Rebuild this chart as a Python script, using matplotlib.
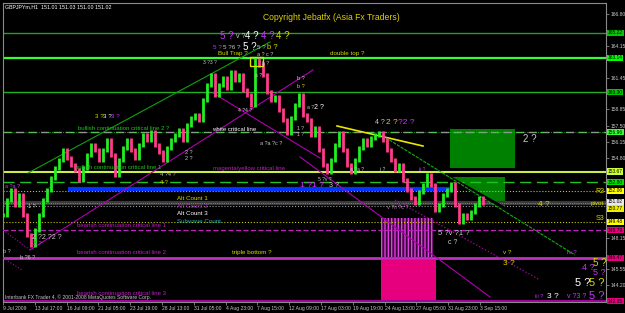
import matplotlib
matplotlib.use("Agg")
import matplotlib.pyplot as plt
import matplotlib.transforms as mtransforms
from matplotlib.patches import Rectangle, Polygon

plt.rcParams['font.family'] = ['Liberation Sans', 'DejaVu Sans']

# hourly closes sampled every 8 bars (GBPJPY H1)
closes = [
    150.05, 151.30, 152.13, 150.88, 151.72, 150.05, 148.38, 147.55, 148.80, 150.05,
    151.30, 152.13, 153.13, 153.97, 154.63, 155.47, 154.80, 154.22, 153.80, 152.97,
    153.97, 155.05, 155.88, 155.47, 154.63, 155.47, 156.30, 155.05, 153.38, 154.63,
    155.63, 156.30, 155.47, 154.80, 155.88, 156.72, 156.30, 156.97, 155.88, 155.30,
    154.63, 155.63, 156.30, 156.72, 157.13, 156.30, 157.55, 158.13, 158.38, 157.97,
    159.63, 160.88, 161.72, 160.05, 160.88, 161.47, 160.63, 161.97, 161.30, 161.72,
    160.47, 160.05, 159.22, 162.97, 162.55, 161.72, 160.30, 159.63, 159.88, 158.80,
    157.97, 156.88, 158.13, 159.22, 160.05, 158.38, 157.97, 156.72, 157.30, 155.47,
    154.22, 153.63, 154.63, 155.88, 156.88, 155.47, 154.22, 153.63, 154.63, 155.63,
    156.30, 155.88, 156.47, 156.72, 156.88, 156.30, 155.47, 154.63, 153.80, 154.22,
    152.97, 152.13, 151.47, 151.05, 151.97, 152.55, 153.38, 152.55, 150.47, 150.88,
    151.72, 152.13, 152.63, 150.88, 149.47, 150.05, 149.80, 150.30, 150.88, 151.47,
    151.05,
]
bar_step = 8

date_labels = ["9 Jul 2009", "13 Jul 17:00", "16 Jul 09:00", "21 Jul 05:00", "23 Jul 19:00",
               "28 Jul 13:00", "31 Jul 05:00", "4 Aug 23:00", "7 Aug 15:00", "12 Aug 09:00",
               "17 Aug 03:00", "19 Aug 19:00", "24 Aug 13:00", "27 Aug 05:00", "31 Aug 23:00",
               "3 Sep 15:00"]
bars_per_label = 63.6

price_ticks = [166.80, 165.45, 164.15, 162.80, 161.45, 160.15, 158.85, 157.50, 156.15,
               154.80, 153.45, 152.15, 150.80, 149.50, 148.15, 146.85, 145.55, 144.20, 142.85]

# horizontal levels: price, colour, width, dash, right-axis tag colour, tag nudge
levels = [
    (165.22, '#22a022', 1.0, '-', '#00c800', 0),
    (163.14, '#33ff33', 1.6, '-', '#00ff00', 0),
    (160.30, '#22b022', 1.0, '-', '#00c800', 0),
    (156.96, '#9a9a9a', 1.0, (0, (6, 3)), '#33ff33', 0),
    (153.67, '#ccee44', 1.5, '-', '#ccff33', 0),
    (152.80, '#22c022', 1.0, (0, (8, 4)), '#00dd00', 0),
    (152.06, '#c8c800', 0.8, ':', '#ffff00', 0),
    (151.02, '#3a3a3a', 3.0, '-', '#e8e8e8', 0.12),
    (150.77, '#9a9a9a', 0.8, ':', '#eeee00', -0.18),
    (149.48, '#c8c800', 0.8, ':', '#ffff00', 0),
    (148.79, '#c020c0', 0.9, (0, (4, 2)), '#e6007e', 0),
    (146.47, '#c030c0', 2.0, '-', '#e6007e', 0),
    (142.85, '#a000a0', 1.5, '-', '#e6007e', 0),
]

MAG = '#cc33ff'
LMAG = '#c41cc4'
YEL = '#d8d800'
GRY = '#c8c8c8'
GRN = '#22c022'

# chart annotations: bar, price, text, colour, size
notes = [
    (430, 163.47, "Bull Trap ?", YEL, 4.5),
    (654, 163.47, "double top ?", YEL, 4.5),
    (434, 164.95, "5 ?", MAG, 7), (466, 164.95, "v ?", GRY, 5), (484, 164.95, "4 ?", 'white', 7),
    (516, 164.95, "4 ?", MAG, 7), (546, 164.95, "4 ?", YEL, 7),
    (420, 164.05, "5 ?", MAG, 4.5), (440, 164.05, "5 ?6 ?", GRY, 4.5), (480, 164.05, "5 ?", 'white', 7),
    (508, 164.05, "5 ?", GRY, 4.5), (528, 164.05, "b ?", YEL, 5.5),
    (508, 163.45, "a ? c ?", GRY, 4), (400, 162.72, "3 ?3 ?", GRY, 3.6),
    (518, 162.64, "b ?", GRY, 3.6), (504, 161.64, "a ?", GRY, 3.6),
    (588, 161.39, "b ?", GRY, 4), (588, 160.80, "b ?", YEL, 4),
    (470, 158.72, "4 ?4 ?", GRY, 3.6),
    (184, 158.22, "3 ?", YEL, 4.5), (200, 158.22, "3 ?", 'white', 4.5), (216, 158.22, "3 ?", MAG, 4.5),
    (514, 156.05, "a ?a ?c ?", GRY, 4), (588, 157.30, "1 ?", GRY, 3.6), (588, 156.72, "1 ?", GRY, 3.6),
    (608, 158.97, "a ?", GRY, 3.6), (622, 158.97, "2 ?", 'white', 5),
    (744, 157.72, "4 ?", GRY, 5), (766, 157.72, "2 ?", YEL, 6), (790, 157.72, "?2 ?", MAG, 6),
    (1040, 156.39, "2 ?", GRY, 7), (1070, 150.89, "4 ?", YEL, 6),
    (870, 148.55, "5 ?v ?1 ?", GRY, 5.5), (890, 147.72, "c ?", GRY, 5),
    (1000, 146.89, "v ?", YEL, 4.5), (1000, 146.05, "3 ?", YEL, 6), (1128, 146.89, "iv ?", MAG, 4.5),
    (1180, 146.05, "5 ?", YEL, 7), (1158, 145.64, "4 ?", MAG, 6.5), (1180, 145.22, "5 ?", MAG, 6.5),
    (1144, 144.39, "5 ?", 'white', 8), (1172, 144.39, "5 ?", YEL, 8),
    (1064, 143.22, "iii ?", MAG, 4), (1088, 143.22, "3 ?", 'white', 6),
    (1128, 143.30, "v ?3 ?", MAG, 5), (1172, 143.30, "5 ?", MAG, 8),
    (594, 152.55, "1 ?1 ?", MAG, 6), (652, 152.55, "3 ?", GRY, 5),
    (630, 153.05, "5 ?v ?", GRY, 3.6), (694, 153.88, "a ?a ?", GRY, 3.6),
    (754, 153.88, "i ?", GRY, 3.6), (832, 153.88, "ii ?", MAG, 3.6),
    (768, 150.64, "v ?ii ?c ?", '#c080c0', 4),
    (348, 151.39, "Alt Count 1", YEL, 4.5), (348, 150.80, "Alt Count 2", LMAG, 4.5),
    (348, 150.14, "Alt Count 3", 'white', 4.5), (348, 149.47, "Subwave Count", '#20b0b0', 4.5),
    (420, 153.89, "magenta/yellow critical line", LMAG, 4.3),
    (148, 149.14, "bearish continuation critical line 1", LMAG, 4.3),
    (148, 146.89, "bearish continuation critical line 2", LMAG, 4.3),
    (148, 143.52, "bearish continuation critical line 3", LMAG, 4.3),
    (458, 146.89, "triple bottom ?", YEL, 4.5),
    (418, 157.14, "white critical line", 'white', 4.3),
    (150, 157.30, "bullish continuation critical line 2 ?", GRN, 4.3),
    (144, 153.97, "bullish continuation critical line 1", GRN, 4.3),
    (4, 152.39, "a ?a ?", MAG, 4), (50, 150.80, "1 ?", GRY, 4), (0, 146.97, "b ?", GRY, 4),
    (58, 148.14, "2 ?2 ?2 ?", GRY, 5), (60, 147.64, "2 ?", MAG, 4.5), (34, 146.55, "b ?6 ?", GRY, 4),
    (314, 153.39, "4 ?4 ?", GRY, 4), (314, 152.80, "4 ?", YEL, 4),
    (364, 155.30, "2 ?", GRY, 4), (364, 154.72, "2 ?", GRY, 4),
]

# trend lines: (bar0, price0, bar1, price1, colour, width, style)
trend_lines = [
    (50, 153.55, 534, 164.47, '#10a010', 0.8, '-'),
    (54, 147.14, 620, 162.14, '#b000b0', 0.8, '-'),
    (420, 160.22, 634, 154.80, '#b000b0', 0.8, '-'),
    (594, 154.89, 974, 143.22, '#b000b0', 0.8, '-'),
    (784, 151.30, 1074, 144.64, '#b000b0', 0.9, ':'),
    (0, 148.80, 54, 147.14, '#b000b0', 0.8, ':'),
    (54, 147.14, 94, 152.55, '#b000b0', 0.8, ':'),
    (0, 146.47, 38, 145.47, '#b000b0', 0.8, ':'),
    (668, 157.47, 840, 155.80, '#e8e800', 1.2, '-'),
]

fig = plt.figure(figsize=(6.25, 3.13), dpi=100, facecolor='black')
ax = fig.add_axes([3 / 625, 11 / 313, 603 / 625, 299 / 313])
ax.set_facecolor('black')
ax.set_xlim(0, 1206)
ax.set_ylim(142.80, 167.72)

# zones
ax.add_patch(Rectangle((894, 153.97), 130, 3.25, fc='#008000', ec='none', zorder=1))
ax.add_patch(Polygon([(892, 153.22), (1004, 153.22), (1004, 150.60)], closed=True,
                     fc='#008000', ec='none', zorder=1))
ax.add_patch(Rectangle((756, 146.55), 104, 3.25, fc='#3a003a', ec='#e040e0', lw=0,
                       hatch='|||||', zorder=1))
ax.add_patch(Rectangle((756, 142.97), 110, 3.33, fc='#e6007e', ec='none', zorder=1))
ax.add_patch(Rectangle((494, 162.47), 26, 0.78, fc='none', ec='#e0e000', lw=1, zorder=4))

for price, col, lw, ls, _, _ in levels:
    ax.axhline(price, color=col, lw=lw, linestyle=ls, zorder=2)
ax.axhline(156.96, color='#22cc22', lw=0.6, linestyle=':', zorder=2)
ax.axhline(151.02, color='#bbbbbb', lw=0.5, linestyle=':', zorder=2)
ax.plot([130, 900], [152.22, 152.22], color='#0033ff', lw=3, solid_capstyle='butt', zorder=2)

for b0, p0, b1, p1, col, lw, ls in trend_lines:
    ax.plot([b0, b1], [p0, p1], color=col, lw=lw, linestyle=ls, zorder=3)
# green channel line with black edge through the triangle
ax.plot([892, 1004], [153.22, 150.60], color='black', lw=2.2, zorder=2)
ax.plot([750, 1144], [156.89, 146.72], color='#10b010', lw=0.8, linestyle=(0, (3, 1)), zorder=3)

# price bars
for i, c in enumerate(closes):
    o = closes[i - 1] if i > 0 else c
    col = '#22ee22' if c >= o else '#ff3c8c'
    lo, hi = min(o, c), max(o, c)
    ax.vlines(i * bar_step, lo - 0.15, hi + 0.15, color=col, lw=2.0, zorder=3)

for b, p, t, col, s in notes:
    ax.text(b, p, t, color=col, fontsize=s, ha='left', va='center', zorder=5)

ax.text(0.545, 166.47, "Copyright Jebatfx (Asia Fx Traders)", color='#e0d000', fontsize=6.2,
        ha='center', va='center', transform=mtransforms.blended_transform_factory(ax.transAxes, ax.transData))
ax.text(1202, 152.05, "R3", color=YEL, fontsize=5, ha='right', va='center')
ax.text(1202, 151.05, "pivot", color=YEL, fontsize=4.5, ha='right', va='center')
ax.text(1202, 149.72, "S3", color=YEL, fontsize=5, ha='right', va='center')
ax.text(0.003, 0.995, "GBPJPYm,H1  151.01 151.03 151.00 151.02", color='white', fontsize=3.8,
        ha='left', va='top', transform=ax.transAxes)
ax.text(0.004, 0.016, "Interbank FX Trader 4, \u00a9 2001-2008 MetaQuotes Software Corp.", color=GRY,
        fontsize=3.6, ha='left', va='center', transform=ax.transAxes)

# axes styling
for sp in ax.spines.values():
    sp.set_color('#8a8a8a')
    sp.set_linewidth(0.8)
ax.yaxis.tick_right()
tag_prices = [lv[0] for lv in levels]
shown_ticks = [v for v in price_ticks if min(abs(v - p) for p in tag_prices) > 0.45]
ax.set_yticks(shown_ticks)
ax.set_yticklabels([f"{v:.2f}" for v in shown_ticks])
ax.tick_params(axis='y', colors='#8a8a8a', labelcolor=GRY, labelsize=3.6, length=2, width=0.6, pad=1)
ax.set_xticks([i * bars_per_label for i in range(len(date_labels))])
ax.set_xticklabels(date_labels)
for lab in ax.get_xticklabels():
    lab.set_ha('left')
ax.tick_params(axis='x', colors='#8a8a8a', labelcolor=GRY, labelsize=3.6, length=2, width=0.6, pad=1)

# price tags on the right axis
tag_tf = mtransforms.blended_transform_factory(ax.transAxes, ax.transData)
for price, _, _, _, tag, nudge in levels:
    ax.text(1.003, price + nudge, f"{price:.2f}", color='black', fontsize=3.5, ha='left', va='center',
            transform=tag_tf, clip_on=False, zorder=6,
            bbox=dict(boxstyle='square,pad=0.12', fc=tag, ec='none'))

fig.savefig('out.png', dpi=100, facecolor='black')
